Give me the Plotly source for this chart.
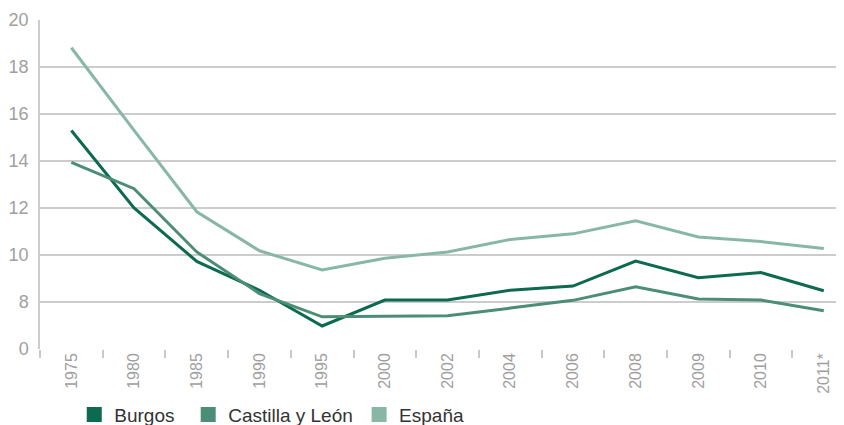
import plotly.graph_objects as go

years = ["1975", "1980", "1985", "1990", "1995", "2000", "2002", "2004", "2006", "2008", "2009", "2010", "2011*"]
burgos = [15.3, 12.0, 9.73, 8.5, 6.98, 8.08, 8.09, 8.5, 8.68, 9.74, 9.03, 9.25, 8.48]
castilla = [13.94, 12.82, 10.13, 8.36, 7.37, 7.39, 7.42, 7.74, 8.07, 8.65, 8.13, 8.08, 7.63]
espana = [18.82, 15.3, 11.84, 10.18, 9.36, 9.86, 10.13, 10.66, 10.9, 11.46, 10.77, 10.57, 10.28]

series_names = ["Burgos", "Castilla y León", "España"]
series_values = [burgos, castilla, espana]
colors = ["#0b6a4f", "#4c8d76", "#88b8a5"]

# broken y axis: the bottom gridline is labelled 0
y_tickvals = [6, 8, 10, 12, 14, 16, 18, 20]
y_ticktext = ["0", "8", "10", "12", "14", "16", "18", "20"]

legend_ids = ["legend", "legend2", "legend3"]
legend_x = [0.0785, 0.2135, 0.416]

fig = go.Figure()
for name, vals, col in zip(series_names, series_values, colors):
    fig.add_trace(go.Scatter(x=years, y=vals, mode="lines", name=name,
                             line=dict(color=col, width=3), showlegend=False))
for name, col, lid in zip(series_names, colors, legend_ids):
    fig.add_trace(go.Scatter(x=[None], y=[None], mode="markers", name=name,
                             legend=lid,
                             marker=dict(symbol="square", size=15, color=col)))

legend_common = dict(orientation="h", xanchor="left", xref="container",
                     yref="container", y=0.088, yanchor="top",
                     font=dict(size=19, color="#333333"),
                     bgcolor="rgba(0,0,0,0)")

fig.update_layout(
    width=844, height=425,
    margin=dict(l=32, r=0, t=12, b=84, autoexpand=False),
    plot_bgcolor="white", paper_bgcolor="white",
    font=dict(family="Liberation Sans, Arial, sans-serif", color="#999999", size=16),
    legend=dict(x=legend_x[0], **legend_common),
    legend2=dict(x=legend_x[1], **legend_common),
    legend3=dict(x=legend_x[2], **legend_common),
    xaxis=dict(type="category", categoryorder="array", categoryarray=years,
               range=[-0.5, 12.45], tickangle=-90, ticks="outside", ticklen=8,
               tickson="boundaries", tickcolor="#c8c8c8", tickwidth=1.5,
               showgrid=False, showline=False, zeroline=False, automargin=False,
               tickfont=dict(size=16, color="#a0a0a0")),
    yaxis=dict(range=[6, 20], tickvals=y_tickvals, ticktext=y_ticktext,
               showgrid=True, gridcolor="#cccccc", gridwidth=1.5,
               showline=True, linecolor="#cccccc", linewidth=1.5,
               zeroline=False, ticks="", ticklabelstandoff=6, automargin=False,
               tickfont=dict(size=18, color="#a0a0a0")),
)

fig.write_html("out.html")
